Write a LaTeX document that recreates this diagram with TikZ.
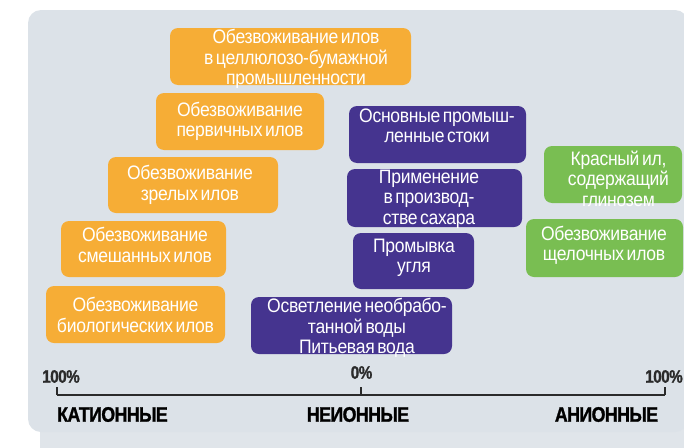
\documentclass[tikz,border=0pt]{standalone}
\usepackage{fontspec}
\setmainfont{Liberation Sans}
\newfontfamily\boxfont[FakeStretch=0.9,LetterSpace=-1.5,WordSpace=0.55]{Liberation Sans}
\newfontfamily\labfont[FakeStretch=0.85,LetterSpace=-3,FakeBold=1.2]{Liberation Sans Bold}
\definecolor{bgcol}{HTML}{DCE2E8}
\definecolor{bgcolb}{HTML}{E0E5EA}
\definecolor{orangebox}{HTML}{F6AD36}
\definecolor{purplebox}{HTML}{45348F}
\definecolor{greenbox}{HTML}{79BE52}
\definecolor{axiscol}{HTML}{2B2B2B}
\tikzset{
  boxbase/.style={rounded corners=8pt, inner sep=0pt, draw=none},
  obox/.style={boxbase, fill=orangebox},
  pbox/.style={boxbase, fill=purplebox},
  gbox/.style={boxbase, fill=greenbox},
  boxtext/.style={text=white, align=center, inner sep=0pt, font=\boxfont\fontsize{19.5}{20.5}\selectfont},
  axisline/.style={draw=axiscol, line width=2.6pt},
  axistick/.style={draw=axiscol, line width=1.3pt},
  pctlabel/.style={text=axiscol, inner sep=0pt, font=\labfont\fontsize{18}{20}\selectfont},
  catlabel/.style={text=black, inner sep=0pt, font=\labfont\fontsize{21}{24}\selectfont}
}
\begin{document}
\begin{tikzpicture}[x=1pt,y=-1pt]
\useasboundingbox (0,0) rectangle (684,447);
% background
\fill[bgcolb, rounded corners=8pt] (40,410) rectangle (700,470);
\fill[bgcol, rounded corners=13pt] (28,10) rectangle (688,432);
% orange boxes
\node[obox, minimum width=241pt, minimum height=57pt] (b1) at (290.5,56.5) {};
\node[boxtext] (t1) at (296,59) {Обезвоживание илов\\в целлюлозо-бумажной\\промышленности};
\node[obox, minimum width=168pt, minimum height=57pt] (b2) at (240,121.5) {};
\node[boxtext] (t2) at (240,121.5) {Обезвоживание\\первичных илов};
\node[obox, minimum width=170pt, minimum height=56pt] (b3) at (193,185) {};
\node[boxtext] (t3) at (190,185) {Обезвоживание\\зрелых илов};
\node[obox, minimum width=165pt, minimum height=56pt] (b4) at (143.5,249) {};
\node[boxtext] (t4) at (145,245) {Обезвоживание\\смешанных илов};
\node[obox, minimum width=179pt, minimum height=57pt] (b5) at (135.5,314.5) {};
\node[boxtext] (t5) at (135.5,315) {Обезвоживание\\биологических илов};
% purple boxes
\node[pbox, minimum width=177pt, minimum height=57pt] (b6) at (437.5,134.5) {};
\node[boxtext] (t6) at (437,126) {Основные промыш-\\ленные стоки};
\node[pbox, minimum width=175pt, minimum height=58pt] (b7) at (434.5,198) {};
\node[boxtext] (t7) at (429,199) {Применение\\в производ-\\стве сахара};
\node[pbox, minimum width=121pt, minimum height=56pt] (b8) at (413.5,261) {};
\node[boxtext] (t8) at (414,258) {Промывка\\угля};
\node[pbox, minimum width=201pt, minimum height=57pt] (b9) at (351.5,325.5) {};
\node[boxtext] (t9) at (357,328) {Осветление необрабо-\\танной воды\\Питьевая вода};
% green boxes
\node[gbox, minimum width=138pt, minimum height=57pt] (b10) at (613,174.5) {};
\node[boxtext] (t10) at (618.5,178.5) {Красный ил,\\содержащий\\глинозем};
\node[gbox, minimum width=157pt, minimum height=58pt] (b11) at (604.5,248) {};
\node[boxtext] (t11) at (604,245.5) {Обезвоживание\\щелочных илов};
% axis
\coordinate (aL) at (57,395);
\coordinate (aM) at (361,395);
\coordinate (aR) at (665,395);
\coordinate (tL) at (57,387);
\coordinate (tM) at (361,387);
\coordinate (tR) at (665,387);
\draw[axisline] (aL) -- (aR);
\draw[axistick] (aL) -- (tL);
\draw[axistick] (aM) -- (tM);
\draw[axistick] (aR) -- (tR);
\node[pctlabel] (pL) at (61,376.5) {100\%};
\node[pctlabel] (pM) at (361.5,372.5) {0\%};
\node[pctlabel] (pR) at (664,376.5) {100\%};
\node[catlabel] (cL) at (112.5,414.5) {КАТИОННЫЕ};
\node[catlabel] (cM) at (358,414.5) {НЕИОННЫЕ};
\node[catlabel] (cR) at (606.5,414.5) {АНИОННЫЕ};
\end{tikzpicture}
\end{document}
